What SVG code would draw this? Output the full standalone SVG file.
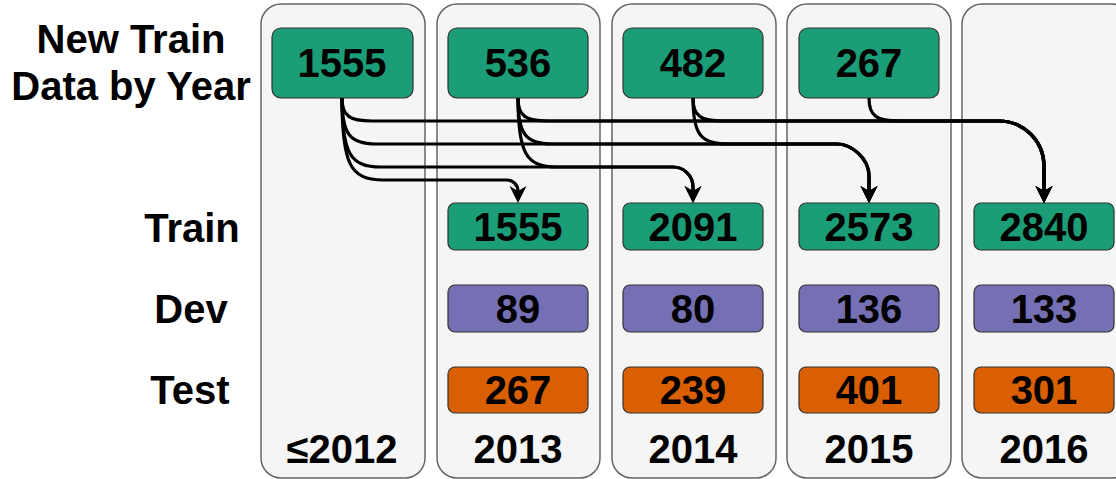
<svg xmlns="http://www.w3.org/2000/svg" width="1116" height="479" viewBox="0 0 1116 479">
<style>
.panel{fill:#f5f5f5;stroke:#666;stroke-width:1.5}
.box{stroke:#333;stroke-width:1.2}
.g{fill:#1b9e77}.p{fill:#7570b3}.o{fill:#d95f02}
text{font-family:"Liberation Sans",Arial,Helvetica,sans-serif;font-weight:bold;fill:#000;text-anchor:middle}
.big{font-size:40px}.mid{font-size:40px}
.edge{fill:none;stroke:#000;stroke-width:3.2;marker-end:url(#arr)}
</style>
<defs>
<marker id="arr" markerUnits="userSpaceOnUse" markerWidth="20" markerHeight="20" viewBox="0 -10 20 20" refX="5" refY="0" orient="auto" overflow="visible"><path d="M0,-8.5 L17,0 L0,8.5 L5,0 Z" fill="#000"/></marker>
</defs>
<rect width="1116" height="479" fill="#fff"/>
<g id="labels">
<text class="big" x="131" y="53">New Train</text>
<text class="big" x="131" y="100">Data by Year</text>
<text class="big" x="192" y="242">Train</text>
<text class="big" x="191" y="323">Dev</text>
<text class="big" x="190" y="404">Test</text>
</g>
<g id="col2012"><rect class="panel" x="261" y="4" width="164" height="474" rx="20"/><text class="big" x="342" y="463">≤2012</text></g>
<g id="col2013"><rect class="panel" x="437" y="4" width="163" height="474" rx="20"/><text class="big" x="518" y="463">2013</text></g>
<g id="col2014"><rect class="panel" x="612" y="4" width="164" height="474" rx="20"/><text class="big" x="693" y="463">2014</text></g>
<g id="col2015"><rect class="panel" x="787" y="4" width="164" height="474" rx="20"/><text class="big" x="869" y="463">2015</text></g>
<g id="col2016"><rect class="panel" x="962" y="4" width="170" height="474" rx="20"/><text class="big" x="1044" y="463">2016</text></g>
<g id="new2012"><rect class="box g" x="272" y="28" width="141" height="70" rx="9"/><text class="big" x="342" y="77">1555</text></g>
<g id="new2013"><rect class="box g" x="448" y="28" width="140" height="70" rx="9"/><text class="big" x="518" y="77">536</text></g>
<g id="new2014"><rect class="box g" x="623" y="28" width="140" height="70" rx="9"/><text class="big" x="693" y="77">482</text></g>
<g id="new2015"><rect class="box g" x="799" y="28" width="140" height="70" rx="9"/><text class="big" x="869" y="77">267</text></g>
<g id="train2013"><rect class="box g" x="448" y="203" width="140" height="47" rx="7"/><text class="mid" x="518" y="241">1555</text></g>
<g id="train2014"><rect class="box g" x="623" y="203" width="140" height="47" rx="7"/><text class="mid" x="693" y="241">2091</text></g>
<g id="train2015"><rect class="box g" x="799" y="203" width="140" height="47" rx="7"/><text class="mid" x="869" y="241">2573</text></g>
<g id="train2016"><rect class="box g" x="974" y="203" width="140" height="47" rx="7"/><text class="mid" x="1044" y="241">2840</text></g>
<g id="dev2013"><rect class="box p" x="448" y="285" width="140" height="47" rx="7"/><text class="mid" x="518" y="323">89</text></g>
<g id="dev2014"><rect class="box p" x="623" y="285" width="140" height="47" rx="7"/><text class="mid" x="693" y="323">80</text></g>
<g id="dev2015"><rect class="box p" x="799" y="285" width="140" height="47" rx="7"/><text class="mid" x="869" y="323">136</text></g>
<g id="dev2016"><rect class="box p" x="974" y="285" width="140" height="47" rx="7"/><text class="mid" x="1044" y="323">133</text></g>
<g id="test2013"><rect class="box o" x="448" y="367" width="140" height="46" rx="7"/><text class="mid" x="518" y="404">267</text></g>
<g id="test2014"><rect class="box o" x="623" y="367" width="140" height="46" rx="7"/><text class="mid" x="693" y="404">239</text></g>
<g id="test2015"><rect class="box o" x="799" y="367" width="140" height="46" rx="7"/><text class="mid" x="869" y="404">401</text></g>
<g id="test2016"><rect class="box o" x="974" y="367" width="140" height="46" rx="7"/><text class="mid" x="1044" y="404">301</text></g>
<g id="connectors">
<path class="edge" d="M342 98 C342 163.6 350 180 383 180 L507 180 C513 180 518 185 518 191"/>
<path class="edge" d="M342 98 C342 153.2 350 167 381 167 L673 167 C684 167 693 176 693 187 L693 191"/>
<path class="edge" d="M342 98 C342 134.8 350 144 376 144 L837 144 C851.4 144 869 158.4 869 176 L869 191"/>
<path class="edge" d="M342 98 C342 116.4 350 121 372 121 L999 121 C1023.75 121 1044 141.25 1044 166 L1044 191"/>
<path class="edge" d="M518 98 C518 153.2 526 167 557 167 L673 167 C684 167 693 176 693 187 L693 191"/>
<path class="edge" d="M518 98 C518 134.8 526 144 552 144 L837 144 C851.4 144 869 158.4 869 176 L869 191"/>
<path class="edge" d="M518 98 C518 116.4 526 121 548 121 L999 121 C1023.75 121 1044 141.25 1044 166 L1044 191"/>
<path class="edge" d="M693 98 C693 134.8 701 144 727 144 L837 144 C851.4 144 869 158.4 869 176 L869 191"/>
<path class="edge" d="M693 98 C693 116.4 701 121 723 121 L999 121 C1023.75 121 1044 141.25 1044 166 L1044 191"/>
<path class="edge" d="M869 98 C869 116.4 877 121 899 121 L999 121 C1023.75 121 1044 141.25 1044 166 L1044 191"/>
</g>
</svg>
